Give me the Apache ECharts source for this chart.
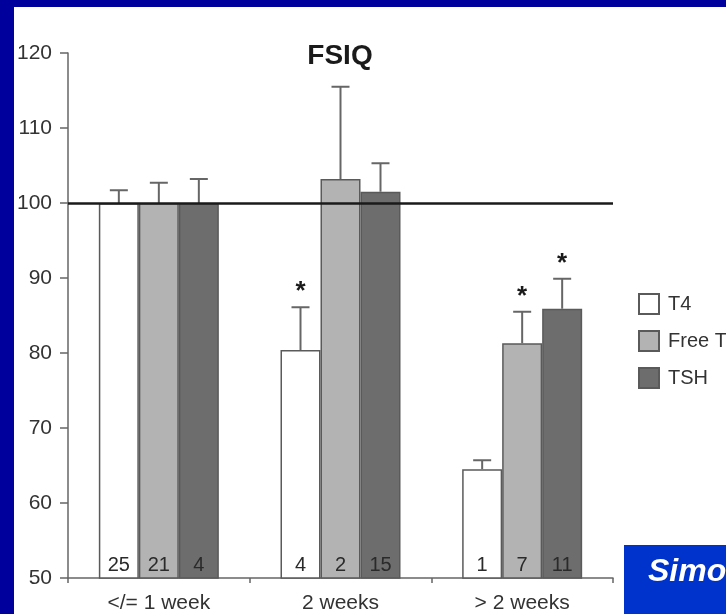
<!DOCTYPE html>
<html>
<head>
<meta charset="utf-8">
<script src="https://cdn.jsdelivr.net/npm/echarts@6/dist/echarts.min.js"></script>
<style>
  html, body { margin: 0; padding: 0; background: #ffffff; }
  #chart { width: 726px; height: 614px; }
</style>
</head>
<body>
<div id="chart"></div>
<script>
// Time to normalisation groups
const categories = ['</= 1 week', '2 weeks', '> 2 weeks'];
const seriesNames = ['T4', 'Free T4', 'TSH'];

// Mean FSIQ per group
const t4Mean   = [100.0, 80.4, 64.5];
const ft4Mean  = [100.0, 103.2, 81.3];
const tshMean  = [100.0, 101.5, 85.9];

// Upper end of the error bars (mean + SE)
const t4Upper  = [101.7, 86.1, 65.7];
const ft4Upper = [102.7, 115.5, 85.5];
const tshUpper = [103.2, 105.3, 89.9];

// Significance flags (1 = starred)
const t4Star  = [0, 1, 0];
const ft4Star = [0, 0, 1];
const tshStar = [0, 0, 1];

// Number of children per bar
const t4N  = [25, 4, 1];
const ft4N = [21, 2, 7];
const tshN = [4, 15, 11];

const yTicks = [50, 60, 70, 80, 90, 100, 110, 120];
const referenceIQ = 100;

const FONT = '"Liberation Sans", Arial, Helvetica, sans-serif';
const fills = ['#ffffff', '#b3b3b3', '#6d6d6d'];
const BAR_W = 40;

const means  = [t4Mean, ft4Mean, tshMean];
const uppers = [t4Upper, ft4Upper, tshUpper];
const stars  = [t4Star, ft4Star, tshStar];
const counts = [t4N, ft4N, tshN];

const chart = echarts.init(document.getElementById('chart'), null, { renderer: 'canvas' });

const barSeries = seriesNames.map((name, i) => ({
  name: name,
  type: 'bar',
  barWidth: BAR_W,
  barGap: '0%',
  data: means[i],
  itemStyle: { color: fills[i], borderColor: '#5a5a5a', borderWidth: 1.5 },
  label: {
    show: true,
    position: 'insideBottom',
    distance: 3,
    fontFamily: FONT,
    fontSize: 20,
    color: '#2a2a2a',
    formatter: p => String(counts[i][p.dataIndex])
  },
  emphasis: { disabled: true },
  markLine: i === 0 ? {
    silent: true,
    symbol: 'none',
    label: { show: false },
    lineStyle: { color: '#1a1a1a', width: 2.5, type: 'solid' },
    data: [{ yAxis: referenceIQ }]
  } : undefined,
  z: 2
}));

// Error bars with caps and significance stars
const errorSeries = seriesNames.map((name, i) => ({
  type: 'custom',
  name: name + ' SE',
  data: means[i].map((m, k) => [k, m, uppers[i][k], stars[i][k]]),
  z: 3,
  silent: true,
  renderItem: (params, api) => {
    const base = api.coord([api.value(0), api.value(1)]);
    const top = api.coord([api.value(0), api.value(2)]);
    const x = base[0] + (i - 1) * BAR_W;
    const children = [
      { type: 'line', shape: { x1: x, y1: base[1], x2: x, y2: top[1] },
        style: { stroke: '#666666', lineWidth: 2 } },
      { type: 'line', shape: { x1: x - 9, y1: top[1], x2: x + 9, y2: top[1] },
        style: { stroke: '#666666', lineWidth: 2 } }
    ];
    if (api.value(3)) {
      children.push({
        type: 'text',
        style: {
          x: x, y: top[1] - 2, text: '*',
          font: 'bold 26px ' + FONT, fill: '#1a1a1a',
          align: 'center', verticalAlign: 'bottom'
        }
      });
    }
    return { type: 'group', children: children };
  }
}));

chart.setOption({
  animation: false,
  backgroundColor: '#ffffff',
  grid: { left: 68, right: 113, top: 53, bottom: 36, containLabel: false },
  legend: {
    data: seriesNames,
    orient: 'vertical',
    left: 638,
    top: 293,
    padding: 0,
    itemWidth: 20,
    itemHeight: 20,
    itemGap: 15,
    icon: 'rect',
    selectedMode: false,
    textStyle: { fontFamily: FONT, fontSize: 20, color: '#333333', padding: [0, 0, 0, 4] }
  },
  xAxis: {
    type: 'category',
    data: categories,
    axisLine: { lineStyle: { color: '#666666', width: 1.5 } },
    axisTick: { show: true, length: 5, alignWithLabel: false, lineStyle: { color: '#666666', width: 1.5 } },
    axisLabel: { fontFamily: FONT, fontSize: 21, color: '#333333', margin: 15 },
    splitLine: { show: false }
  },
  yAxis: {
    type: 'value',
    min: yTicks[0],
    max: yTicks[yTicks.length - 1],
    interval: 10,
    axisLine: { show: true, lineStyle: { color: '#666666', width: 1.5 } },
    axisTick: { show: true, length: 8, lineStyle: { color: '#666666', width: 1.5 } },
    axisLabel: { fontFamily: FONT, fontSize: 21, color: '#333333', margin: 16 },
    splitLine: { show: false }
  },
  graphic: [
    { type: 'rect', left: 0, top: 0, shape: { width: 14, height: 614 }, style: { fill: '#00009c' }, z: 10 },
    { type: 'rect', left: 0, top: 0, shape: { width: 726, height: 7 }, style: { fill: '#00009c' }, z: 10 },
    { type: 'text', x: 340, y: 56, z: 10,
      style: { text: 'FSIQ', font: 'bold 28px ' + FONT, fill: '#1a1a1a', align: 'center', verticalAlign: 'middle' } },
    { type: 'rect', left: 624, top: 545, shape: { width: 102, height: 69 }, style: { fill: '#0033cc' }, z: 10 },
    { type: 'text', x: 648, y: 588, z: 11,
      style: { text: 'Simo', font: 'italic bold 32px ' + FONT, fill: '#ffffff', align: 'left', verticalAlign: 'bottom' } }
  ],
  series: barSeries.concat(errorSeries)
});
</script>
</body>
</html>
